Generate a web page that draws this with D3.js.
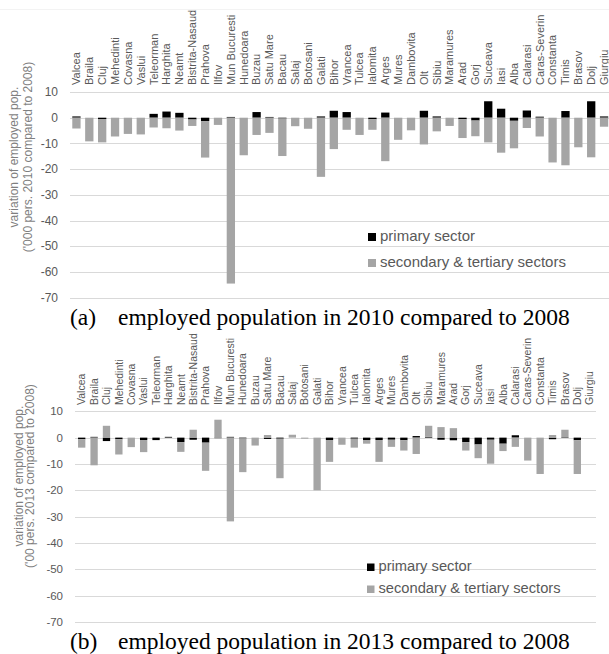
<!DOCTYPE html>
<html>
<head>
<meta charset="utf-8">
<script src="https://cdn.jsdelivr.net/npm/d3@7/dist/d3.min.js"></script>
<style>
  html, body { margin: 0; padding: 0; background: #ffffff; }
  svg { display: block; }
</style>
</head>
<body>
<svg id="chart" width="609" height="654"></svg>
<script>
// ---------- data ----------
const categories = ["Valcea","Braila","Cluj","Mehedinti","Covasna","Vaslui","Teleorman","Harghita","Neamt",
  "Bistrita-Nasaud","Prahova","Ilfov","Mun Bucuresti","Hunedoara","Buzau","Satu Mare","Bacau","Salaj",
  "Botosani","Galati","Bihor","Vrancea","Tulcea","Ialomita","Arges","Mures","Dambovita","Olt","Sibiu",
  "Maramures","Arad","Gorj","Suceava","Iasi","Alba","Calarasi","Caras-Severin","Constanta","Timis",
  "Brasov","Dolj","Giurgiu"];

// (a) 2010 vs 2008, thousand persons
const primary2010 = [0.5, 0, -0.5, 0, 0, 0, 1.5, 2.4, 1.9, -0.7, -1.3, 0, 0.3, 0, 2.2, 0.3, -0.3, 0, 0, 0.5,
  2.7, 2.2, 0, -0.6, 2.0, 0, 0, 2.7, 0.5, 0, -0.6, -1.1, 6.4, 3.5, -1.2, 2.8, 0.4, 0, 2.6, 0, 6.4, 0.5];
const other2010 = [-4.2, -9.2, -9.1, -7.3, -6.3, -6.5, -3.8, -4.1, -5.0, -2.5, -14.2, -2.8, -64.5, -14.6, -6.7,
  -5.9, -14.6, -3.3, -4.3, -23.0, -12.2, -4.7, -6.7, -4.1, -16.9, -8.6, -4.9, -10.4, -5.3, -3.2, -7.3, -6.1,
  -9.6, -13.6, -10.7, -4.0, -7.3, -17.4, -18.5, -11.5, -15.4, -3.5];

// (b) 2013 vs 2008
const primary2013 = [-0.6, 0.3, -1.3, -0.6, 0, -0.9, -0.9, 0.3, -1.7, -0.8, -1.9, -0.2, 0.3, -0.3, 0, -0.5,
  -0.4, 0, 0, 0, -0.9, 0, -0.4, -0.9, -0.9, -0.8, -1.0, 0.6, 0.3, -0.8, -1.0, -1.7, -2.6, -0.8, -2.3, 0.9,
  0, 0, -0.6, 0.2, -1.0, 0];
const other2013 = [-3.2, -10.5, 4.5, -5.8, -3.6, -4.6, -0.1, 0, -3.7, 3.0, -10.7, 6.8, -31.8, -12.8, -3.0, 1.0,
  -15.0, 1.1, -0.4, -20.0, -8.3, -2.7, -3.4, -1.4, -8.3, -2.7, -3.9, -6.2, 4.2, 4.0, 3.6, -3.2, -5.2, -9.1,
  -2.8, -3.5, -8.7, -13.8, 1.0, 2.8, -12.8, 0];

const yTicks = [10, 0, -10, -20, -30, -40, -50, -60, -70];
const seriesKeys = ["primary", "other"];
const seriesNames = ["primary sector", "secondary & tertiary sectors"];
const seriesColors = ["#000000", "#a5a5a5"];

// ---------- drawing ----------
const svg = d3.select("#chart");

function drawPanel(o) {
  const g = svg.append("g");
  const x = d3.scaleBand().domain(categories).range([o.x0, o.x1])
    .paddingInner(o.pad).paddingOuter(o.pad / 2);
  const y = d3.scaleLinear().domain([-70, 10]).range([o.yBottom, o.yTop]);

  // gridlines
  g.append("g").selectAll("line").data(yTicks).join("line")
    .attr("x1", o.gridX0).attr("x2", o.gridX1)
    .attr("y1", d => Math.round(y(d)) + 0.5).attr("y2", d => Math.round(y(d)) + 0.5)
    .attr("stroke", "#d9d9d9").attr("stroke-width", 1);

  // tick labels
  g.append("g").selectAll("text").data(yTicks).join("text")
    .attr("x", o.tickX).attr("y", d => y(d)).attr("dy", "0.35em")
    .attr("text-anchor", "end")
    .attr("font-family", "Liberation Sans, Arial, sans-serif")
    .attr("font-size", o.tickSize).attr("fill", "#595959")
    .text(d => d);

  // stacked bars
  const rows = categories.map((c, i) => ({ cat: c, primary: o.prim[i], other: o.sec[i] }));
  const stacked = d3.stack().keys(seriesKeys).offset(d3.stackOffsetDiverging)(rows);
  g.append("g").selectAll("g").data(stacked).join("g")
    .attr("fill", (d, i) => seriesColors[i])
    .selectAll("rect").data(d => d).join("rect")
    .attr("x", d => x(d.data.cat))
    .attr("width", x.bandwidth())
    .attr("y", d => y(Math.max(d[0], d[1])))
    .attr("height", d => Math.abs(y(d[0]) - y(d[1])));

  // category labels
  g.append("g").selectAll("text").data(categories).join("text")
    .attr("transform", d => `translate(${x(d) + x.bandwidth() / 2},${o.labelY}) rotate(-90)`)
    .attr("dy", "0.35em")
    .attr("text-anchor", "start")
    .attr("font-family", "Liberation Sans, Arial, sans-serif")
    .attr("font-size", o.catSize).attr("fill", "#595959")
    .text(d => d);

  // y-axis title
  o.title.forEach((t, i) => {
    g.append("text")
      .attr("transform", `translate(${o.titleX[i]},${o.titleY}) rotate(-90)`)
      .attr("text-anchor", "middle")
      .attr("font-family", "Liberation Sans, Arial, sans-serif")
      .attr("font-size", 12).attr("fill", "#7f7f7f")
      .text(t);
  });

  // legend
  seriesNames.forEach((name, i) => {
    const ly = o.legY + i * o.legStep;
    g.append("rect").attr("x", o.legX).attr("y", ly - o.legBox)
      .attr("width", o.legBox).attr("height", o.legBox).attr("fill", seriesColors[i]);
    g.append("text").attr("x", o.legX + o.legBox + 4).attr("y", ly)
      .attr("font-family", "Liberation Sans, Arial, sans-serif")
      .attr("font-size", o.legSize).attr("fill", "#595959")
      .text(name);
  });

  // caption
  g.append("text").attr("x", o.capX0).attr("y", o.capY)
    .attr("font-family", "Liberation Serif, Times New Roman, serif")
    .attr("font-size", 23.5).attr("fill", "#000").text(o.capLabel);
  g.append("text").attr("x", o.capX1).attr("y", o.capY)
    .attr("font-family", "Liberation Serif, Times New Roman, serif")
    .attr("font-size", 23.5).attr("fill", "#000").text(o.capText);
}

// faint chart-area border at the top
svg.append("line").attr("x1", 0).attr("x2", 609).attr("y1", 9.5).attr("y2", 9.5)
  .attr("stroke", "#f3f3f3");

drawPanel({
  prim: primary2010, sec: other2010,
  x0: 70, x1: 610.5, pad: 0.355,
  yTop: 92, yBottom: 297.7,
  gridX0: 70, gridX1: 609,
  tickX: 58, tickSize: 12,
  labelY: 85, catSize: 11,
  title: ["variation of employed pop.", "('000 pers. 2010 compared to 2008)"],
  titleX: [18, 32], titleY: 157,
  legX: 368, legY: 241, legStep: 26, legBox: 8, legSize: 15,
  capX0: 70, capX1: 118, capY: 325,
  capLabel: "(a)", capText: "employed population in 2010 compared to 2008"
});

drawPanel({
  prim: primary2013, sec: other2013,
  x0: 75.5, x1: 595.9, pad: 0.41,
  yTop: 411.3, yBottom: 622,
  gridX0: 75, gridX1: 596,
  tickX: 63, tickSize: 11.5,
  labelY: 405, catSize: 10.5,
  title: ["variation of employed pop.", "('00 pers. 2013 compared to 2008)"],
  titleX: [23, 34], titleY: 476,
  legX: 367, legY: 571, legStep: 22, legBox: 7.5, legSize: 14.7,
  capX0: 70, capX1: 118, capY: 649,
  capLabel: "(b)", capText: "employed population in 2013 compared to 2008"
});
</script>
</body>
</html>
